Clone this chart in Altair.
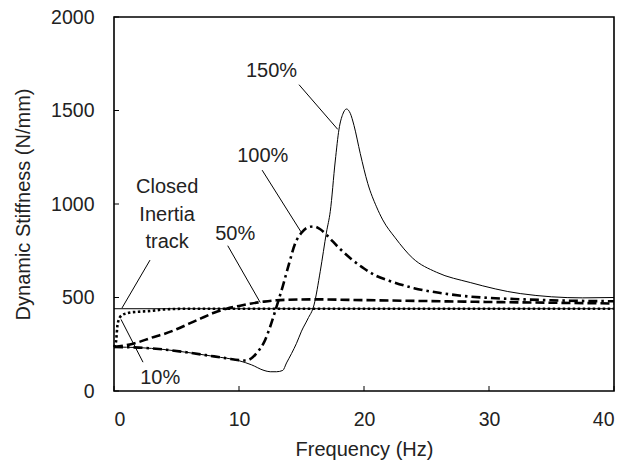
import altair as alt
import pandas as pd

FONT = "Liberation Sans"

# ---- data ----
freq150 = [0, 2, 4, 6, 8, 10, 11, 12, 12.5, 13, 13.5, 13.8, 14.2, 14.6, 15, 15.5, 16, 16.5, 17, 17.3,
           17.7, 18, 18.3, 18.6, 18.9, 19.2, 19.7, 20.3, 21, 21.5, 22.5, 23.9, 25.8, 28.5, 32.5, 37.5, 40]
val150 = [235, 232, 222, 205, 185, 162, 140, 110, 103, 103, 110, 150, 200, 255, 320, 385, 460, 640, 850, 960,
          1230, 1400, 1480, 1508, 1485, 1420, 1270, 1110, 985, 915, 819, 710, 635, 580, 521, 498, 500]

freq100 = [0, 2, 4, 6, 8, 9, 10, 10.5, 11, 11.5, 12, 12.5, 13, 13.5, 14, 14.5, 15, 15.5, 16, 16.5, 17,
           18, 19, 20, 21, 22, 24, 26, 28, 30, 32, 35, 40]
val100 = [235, 232, 222, 205, 185, 175, 165, 163, 175, 210, 260, 345, 450, 560, 680, 790, 846, 875, 880, 865, 835,
          765, 705, 655, 615, 590, 550, 525, 508, 498, 492, 485, 480]

freq50 = [0, 1, 2, 3, 4, 5, 6, 7, 8, 9, 10, 11, 12, 13, 14, 16, 20, 25, 30, 35, 40]
val50 = [235, 245, 262, 285, 305, 330, 360, 390, 418, 440, 455, 468, 478, 485, 488, 490, 486, 481, 476, 472, 468]

freq10 = [0, 0.15, 0.3, 0.6, 1, 1.3, 2, 2.9, 4, 6, 10, 20, 30, 40]
val10 = [235, 260, 362, 404, 415, 420, 424, 428, 436, 440, 440, 440, 440, 440]

freqClosed = [0, 40]
valClosed = [440, 440]

# annotation labels (data coordinates)
label_text = ["150%", "100%", "50%", "Closed", "Inertia", "track", "10%"]
label_x = [12.6, 11.9, 9.7, 4.25, 4.25, 4.25, 3.7]
label_y = [1713, 1255, 840, 1090, 940, 795, 69]

# leader lines (data coordinates)
lead_x1 = [14.8, 11.85, 9.1, 2.88, 0.56]
lead_y1 = [1638, 1181, 777, 700, 383]
lead_x2 = [17.9, 14.96, 11.7, 0.64, 2.32]
lead_y2 = [1399, 851, 473, 444, 154]

xticks = [0, 10, 20, 30, 40]
yticks = [0, 500, 1000, 1500, 2000]

W, H = 500, 374

xs = alt.Scale(domain=[0, 40], nice=False)
ys = alt.Scale(domain=[0, 2000], nice=False)

xaxis = alt.Axis(values=xticks, format="d", ticks=False, domain=False, grid=False, labelFontSize=19.5,
                 labelFont=FONT, labelColor="#222", labelPadding=19, title="Frequency (Hz)",
                 titleFont=FONT, titleFontSize=20, titleFontWeight="normal", titleColor="#222",
                 titlePadding=11)
yaxis = alt.Axis(values=yticks, format="d", ticks=False, domain=False, grid=False, labelFontSize=19.5,
                 labelFont=FONT, labelColor="#222", labelPadding=20, title="Dynamic Stiffness (N/mm)",
                 titleFont=FONT, titleFontSize=20, titleFontWeight="normal", titleColor="#222",
                 titlePadding=17)


def series(f, v, **mk):
    df = pd.DataFrame({"f": f, "v": v})
    return alt.Chart(df).mark_line(color="black", interpolate="monotone", **mk).encode(
        x=alt.X("f:Q", scale=xs, axis=xaxis),
        y=alt.Y("v:Q", scale=ys, axis=yaxis),
    )


closed = series(freqClosed, valClosed, strokeWidth=1)
s10 = series(freq10, val10, strokeWidth=2.6, strokeDash=[2.5, 2.5])
s50 = series(freq50, val50, strokeWidth=2.6, strokeDash=[9, 4])
s100 = series(freq100, val100, strokeWidth=2.6, strokeDash=[9, 4, 2.5, 4])
s150 = series(freq150, val150, strokeWidth=1)

labels_df = pd.DataFrame({"x": label_x, "y": label_y, "t": label_text})
labels = alt.Chart(labels_df).mark_text(font=FONT, fontSize=20, color="#222", align="center",
                                        baseline="middle").encode(
    x=alt.X("x:Q", scale=xs), y=alt.Y("y:Q", scale=ys), text="t:N")

lead_df = pd.DataFrame({"x": lead_x1, "y": lead_y1, "x2": lead_x2, "y2": lead_y2})
leaders = alt.Chart(lead_df).mark_rule(color="black", strokeWidth=1).encode(
    x=alt.X("x:Q", scale=xs), y=alt.Y("y:Q", scale=ys), x2="x2:Q", y2="y2:Q")

xt_df = pd.DataFrame({"t": xticks})
xtick_marks = alt.Chart(xt_df).mark_rule(color="black", strokeWidth=1).encode(
    x=alt.X("t:Q", scale=xs), y=alt.value(H), y2=alt.value(H - 5))
yt_df = pd.DataFrame({"t": yticks})
ytick_marks = alt.Chart(yt_df).mark_rule(color="black", strokeWidth=1).encode(
    y=alt.Y("t:Q", scale=ys), x=alt.value(0), x2=alt.value(5))

chart = alt.layer(closed, s10, s50, s100, s150, leaders, labels, xtick_marks, ytick_marks).properties(
    width=W, height=H,
    autosize=alt.AutoSizeParams(type="none"),
    padding={"left": 114, "top": 17, "right": 14, "bottom": 75},
    background="white",
).configure_view(stroke="black", strokeWidth=1.6)

chart.save("out.html", embed_options={"renderer": "svg", "actions": False})
